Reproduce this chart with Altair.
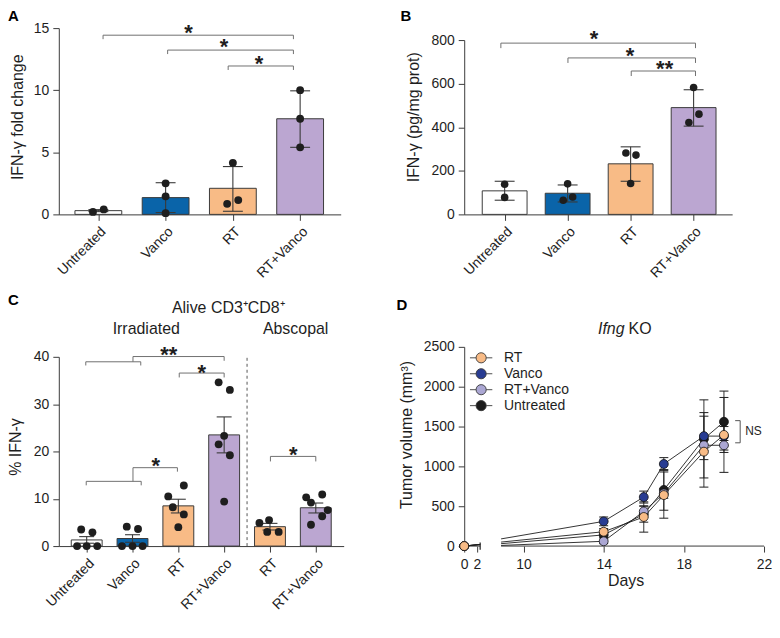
import altair as alt
import pandas as pd

FONT = "Liberation Sans"
INK = "#1e1e1e"
AXC = "#3a3a3a"
BRC = "#707070"

# ---------------- Panel A ----------------
a_names = ["Untreated", "Vanco", "RT", "RT+Vanco"]
a_colors = ["#ffffff", "#0a64a9", "#f8bb86", "#bba6d1"]
a_mean = [0.30, 1.35, 2.10, 7.70]
a_lo = [0.22, 0.15, 0.25, 5.40]
a_hi = [0.38, 2.55, 3.85, 9.95]
a_pt_grp = [0, 0, 1, 1, 1, 2, 2, 2, 3, 3, 3]
a_pt_val = [0.20, 0.40, 2.50, 1.45, 0.10, 4.15, 0.85, 1.15, 10.0, 7.70, 5.40]
a_pt_jit = [-0.08, 0.08, 0, 0, 0, 0, -0.085, 0.08, 0, 0, 0]
a_brackets = [(0.07, 2.90, 14.43), (1.03, 2.90, 13.23), (1.93, 2.90, 11.95)]
a_stars = [("*", 1.34, 15.03), ("*", 1.87, 13.87), ("*", 2.39, 12.5)]

# ---------------- Panel B ----------------
b_names = ["Untreated", "Vanco", "RT", "RT+Vanco"]
b_mean = [108, 97, 232, 490]
b_lo = [65, 57, 152, 405]
b_hi = [152, 135, 310, 572]
b_pt_grp = [0, 0, 1, 1, 1, 2, 2, 2, 3, 3, 3]
b_pt_val = [138, 78, 140, 65, 80, 282, 272, 142, 582, 460, 422]
b_pt_jit = [0, 0, 0, -0.07, 0.08, -0.075, 0.085, 0, 0, 0.085, -0.075]
b_brackets = [(-0.06, 3.03, 786), (1.005, 3.03, 718), (2.01, 3.03, 658)]
b_stars = [("*", 1.42, 827), ("*", 1.99, 750), ("**", 2.54, 690)]

# ---------------- Panel C ----------------
c_names = ["Untreated", "Vanco", "RT", "RT+Vanco", "RT", "RT+Vanco"]
c_colors = ["#ffffff", "#0a64a9", "#f8bb86", "#bba6d1", "#f8bb86", "#bba6d1"]
c_mean = [1.3, 1.6, 8.5, 23.5, 4.1, 8.1]
c_lo = [0.6, 0.8, 7.0, 19.7, 3.4, 7.0]
c_hi = [2.0, 2.4, 9.9, 27.3, 4.8, 9.1]
c_pt_grp = [0] * 5 + [1] * 5 + [2] * 5 + [3] * 6 + [4] * 4 + [5] * 6
c_pt_val = [3.5, 2.9, 0, 0, 0,
            4.1, 3.6, 0, 0, 0,
            12.8, 10.5, 8.2, 6.7, 4.0,
            34.6, 33.0, 23.3, 21.5, 19.2, 9.4,
            5.5, 4.9, 3.0, 3.0,
            10.9, 10.3, 9.2, 7.6, 6.3, 4.5]
c_pt_jit = [-0.12, 0.125, -0.21, 0, 0.23,
            -0.125, 0.12, -0.23, 0, 0.22,
            0.12, -0.22, -0.12, 0.12, 0,
            -0.12, 0.125, 0, -0.12, 0.125, 0,
            -0.02, -0.23, -0.06, 0.19,
            0.14, -0.21, -0.105, 0.26, 0.14, -0.105]
c_segments = [
    (-0.02, 1.18, 38.95, 38.95), (-0.02, -0.02, 38.95, 38.17), (1.18, 1.18, 38.95, 38.17),
    (1.01, 1.01, 38.95, 40.06), (1.01, 3.0, 40.06, 40.06), (3.0, 3.0, 40.06, 39.16),
    (2.02, 3.0, 36.57, 36.57), (2.02, 2.02, 36.57, 35.64), (3.0, 3.0, 36.57, 35.64),
    (-0.01, 1.19, 13.68, 13.68), (-0.01, -0.01, 13.68, 12.84), (1.19, 1.19, 13.68, 12.84),
    (1.01, 1.01, 13.68, 16.57), (1.01, 1.98, 16.57, 16.57), (1.98, 1.98, 16.57, 15.73),
    (4.01, 5.0, 18.95, 18.95), (4.01, 4.01, 18.95, 17.89), (5.0, 5.0, 18.95, 17.89),
]
c_stars = [("**", 1.79, 41.33), ("*", 2.51, 37.62), ("*", 1.51, 17.96), ("*", 4.51, 20.4)]
c_headers = [("Alive CD3\u207aCD8\u207a", 3.09, 50.3), ("Irradiated", 1.30, 45.9), ("Abscopal", 4.56, 45.9)]
c_divider = [(3.5, 0, 40.4)]

# ---------------- Panel D ----------------
d_groups = ["RT", "Vanco", "RT+Vanco", "Untreated"]
d_colors = ["#f8bb86", "#283c92", "#aba7d3", "#1c1c1c"]
d_draw_order = ["Untreated", "RT+Vanco", "Vanco", "RT"]
d_days = [14, 16, 17, 19, 20]
d_rt = [180, 365, 640, 1185, 1395]
d_rt_sem = [40, 190, 290, 445, 470]
d_vanco = [310, 615, 1030, 1380, 1380]
d_vanco_sem = [55, 75, 80, 295, 120]
d_rtv = [60, 435, 660, 1265, 1265]
d_rtv_sem = [30, 70, 60, 70, 60]
d_unt = [140, 400, 705, 1345, 1560]
d_unt_sem = [30, 100, 255, 490, 385]
d_day0_val = [0, 0, 0, 0]
d_early_day = 2.5
d_early_val = [20, 20, 20, 20]
d_break_day = 8.88
d_break_val = [50, 90, 8, 30]
d_axis_segments = [(0, 2.5), (8.88, 22)]
d_ns_segments = [(20.81, 20.81, 1296, 1574), (20.56, 20.81, 1574, 1574), (20.56, 20.81, 1296, 1296)]


def bracket_segments(brs, drop):
    out = []
    for x1, x2, y in brs:
        out.append((x1, x2, y, y))
        out.append((x1, x1, y, y - drop))
        out.append((x2, x2, y, y - drop))
    return out


def letter_layer(letter, lx, ly):
    return alt.Chart(pd.DataFrame({"t": [letter]})).mark_text(
        font=FONT, fontSize=15, fontWeight="bold", align="left", baseline="alphabetic", color="#000"
    ).encode(x=alt.value(lx), y=alt.value(ly), text="t:N")


def bar_panel(names, colors, mean, lo, hi, pgrp, pval, pjit, segs, stars, xdom, xrange,
              ydom, yrange, yticks, width, height, barw, capw, dotsize, ytitle, ytx, yty,
              letter, lx, ly, extra=()):
    n = len(names)
    xs = alt.Scale(domain=xdom, range=xrange, nice=False, zero=False)
    ys = alt.Scale(domain=ydom, range=yrange, nice=False, zero=True)
    lab = "[" + ",".join("'" + s + "'" for s in names) + "][datum.value]"
    xax = alt.Axis(values=list(range(n)), labelExpr=lab, labelAngle=-45, labelAlign="right",
                   labelBaseline="top", labelPadding=4, labelOverlap=False, labelFlush=False, title=None)
    yax = alt.Axis(values=yticks, title=ytitle, titleX=ytx, titleY=yty, titleBaseline="middle",
                   labelOverlap=False, labelFlush=False, format="d")

    def X(f):
        return alt.X(f, type="quantitative", scale=xs, axis=xax)

    def Y(f, **kw):
        return alt.Y(f, type="quantitative", scale=ys, axis=yax, **kw)

    bars = pd.DataFrame({"i": list(range(n)), "m": mean, "lo": lo, "hi": hi, "c": colors})
    pts = pd.DataFrame({"x": [g + j for g, j in zip(pgrp, pjit)], "v": pval})
    sg = pd.DataFrame(segs, columns=["x", "x2", "y", "y2"])
    st = pd.DataFrame(stars, columns=["t", "x", "y"])

    b = alt.Chart(bars)
    layers = [
        b.mark_bar(size=barw, orient="vertical", stroke=AXC, strokeWidth=1).encode(
            x=X("i"), y=Y("m", stack=None), fill=alt.Fill("c:N", scale=None)),
        b.mark_rule(color=AXC, strokeWidth=1.1).encode(x=X("i"), y=Y("lo"), y2="hi"),
        b.mark_tick(orient="horizontal", size=capw, thickness=1.1, color=AXC, opacity=1).encode(
            x=X("i"), y=Y("lo")),
        b.mark_tick(orient="horizontal", size=capw, thickness=1.1, color=AXC, opacity=1).encode(
            x=X("i"), y=Y("hi")),
        alt.Chart(pts).mark_circle(size=dotsize, color=INK, opacity=1).encode(x=X("x"), y=Y("v")),
        alt.Chart(sg).mark_rule(color=BRC, strokeWidth=1).encode(
            x=X("x"), x2="x2", y=Y("y"), y2="y2"),
        alt.Chart(st).mark_text(font=FONT, fontSize=22, fontWeight="bold", color=INK,
                                baseline="alphabetic", dy=12).encode(x=X("x"), y=Y("y"), text="t:N"),
    ]
    layers += [e(X, Y) for e in extra]
    layers.append(letter_layer(letter, lx, ly))
    return alt.layer(*layers).properties(width=width, height=height)


# ---- A ----
A = bar_panel(a_names, a_colors, a_mean, a_lo, a_hi, a_pt_grp, a_pt_val, a_pt_jit,
              bracket_segments(a_brackets, 0.32), a_stars,
              [-0.514, 3.529], [0, 283], [0, 15], [187, 0], [0, 5, 10, 15],
              283, 187, 47, 20, 62, "IFN-\u03b3 fold change", -41, 89, "A", -51, -7)

# ---- B ----
B = bar_panel(b_names, a_colors, b_mean, b_lo, b_hi, b_pt_grp, b_pt_val, b_pt_jit,
              bracket_segments(b_brackets, 23), b_stars,
              [-0.563, 3.533], [0, 269], [0, 800], [187, 12], [0, 200, 400, 600, 800],
              269, 187, 45, 20, 58, "IFN-\u03b3 (pg/mg prot)", -51, 89, "B", -64, -7)


# ---- C extras ----
def c_divider_layer(X, Y):
    df = pd.DataFrame(c_divider, columns=["x", "y", "y2"])
    return alt.Chart(df).mark_rule(color="#555555", strokeWidth=1, strokeDash=[3, 3]).encode(
        x=X("x"), y=Y("y"), y2="y2")


def c_header_layer(X, Y):
    df = pd.DataFrame(c_headers, columns=["t", "x", "y"])
    return alt.Chart(df).mark_text(font=FONT, fontSize=16, color=INK, baseline="middle").encode(
        x=X("x"), y=Y("y"), text="t:N")


C = bar_panel(c_names, c_colors, c_mean, c_lo, c_hi, c_pt_grp, c_pt_val, c_pt_jit,
              c_segments, c_stars,
              [-0.5, 5.5], [0, 286], [0, 40], [200, 10], [0, 10, 20, 30, 40],
              288, 200, 31, 15, 62, "% IFN-\u03b3", -43, 100, "C", -51, -42,
              extra=(c_divider_layer, c_header_layer))

# ---- D ----
d_mean_by = {"RT": d_rt, "Vanco": d_vanco, "RT+Vanco": d_rtv, "Untreated": d_unt}
d_sem_by = {"RT": d_rt_sem, "Vanco": d_vanco_sem, "RT+Vanco": d_rtv_sem, "Untreated": d_unt_sem}

line_rows, pt_rows, err_rows = [], [], []
for k, g in enumerate(d_groups):
    line_rows.append((g, "a", 0, d_day0_val[k]))
    line_rows.append((g, "a", d_early_day, d_early_val[k]))
    line_rows.append((g, "b", d_break_day, d_break_val[k]))
    for day, v in zip(d_days, d_mean_by[g]):
        line_rows.append((g, "b", day, v))
for g in d_draw_order:
    k = d_groups.index(g)
    pt_rows.append((g, 0, d_day0_val[k]))
    for day, v, s in zip(d_days, d_mean_by[g], d_sem_by[g]):
        pt_rows.append((g, day, v))
        err_rows.append((g, day, v - s, v + s))

d_lines = pd.DataFrame(line_rows, columns=["g", "seg", "day", "v"])
d_lines["key"] = d_lines["g"] + "_" + d_lines["seg"]
d_pts = pd.DataFrame(pt_rows, columns=["g", "day", "v"])
d_err = pd.DataFrame(err_rows, columns=["g", "day", "lo", "hi"])
d_axseg = pd.DataFrame(d_axis_segments, columns=["x", "x2"]).assign(y=0)
d_ns = pd.DataFrame(d_ns_segments, columns=["x", "x2", "y", "y2"])

xs_d = alt.Scale(domain=[0, 2.5, 8.88, 22], range=[0, 16, 37, 301], nice=False, zero=False)
ys_d = alt.Scale(domain=[0, 2500], range=[200, 0], nice=False)
xax_d = alt.Axis(values=[0, 2, 10, 14, 18, 22], domain=False, title="Days", titleX=162, titleY=35,
                 titleBaseline="middle", labelPadding=6, labelOverlap=False, labelFlush=False,
                 format="d", labelAngle=0)
yax_d = alt.Axis(values=[0, 500, 1000, 1500, 2000, 2500], title="Tumor volume (mm\u00b3)",
                 titleX=-58, titleY=88, titleBaseline="middle", labelOverlap=False, labelFlush=False,
                 format="d")


def XD(f):
    return alt.X(f, type="quantitative", scale=xs_d, axis=xax_d)


def YD(f):
    return alt.Y(f, type="quantitative", scale=ys_d, axis=yax_d)


SYM = "M-2.2,0H-1M1,0H2.2M1,0A1,1,0,1,1,-1,0A1,1,0,1,1,1,0Z"

# legend sits at the concat origin frame (panel A view origin)
LEG_X = 417
LEG_Y = 324

d_layers = [
    alt.Chart(d_axseg).mark_rule(color=AXC, strokeWidth=1).encode(x=XD("x"), x2="x2", y=YD("y")),
    alt.Chart(pd.DataFrame({"x": [d_early_day], "y": [-45], "y2": [45]})).mark_rule(
        color=INK, strokeWidth=1.2).encode(x=XD("x"), y=YD("y"), y2="y2"),
    alt.Chart(d_lines).mark_line(color=INK, strokeWidth=0.9).encode(
        x=XD("day"), y=YD("v"), detail="key:N", order="day:Q"),
    alt.Chart(d_err).mark_rule(color=INK, strokeWidth=0.9).encode(x=XD("day"), y=YD("lo"), y2="hi"),
    alt.Chart(d_err).mark_tick(orient="horizontal", size=9, thickness=1, color=INK, opacity=1).encode(
        x=XD("day"), y=YD("lo")),
    alt.Chart(d_err).mark_tick(orient="horizontal", size=9, thickness=1, color=INK, opacity=1).encode(
        x=XD("day"), y=YD("hi")),
    alt.Chart(d_pts).mark_circle(size=80, stroke="#111111", strokeWidth=0.8, opacity=1).encode(
        x=XD("day"), y=YD("v"),
        fill=alt.Fill("g:N", scale=alt.Scale(domain=d_groups, range=d_colors),
                      legend=alt.Legend(title=None, orient="none", legendX=LEG_X, legendY=LEG_Y,
                                        symbolType=SYM, symbolSize=104, symbolStrokeColor="#111111",
                                        symbolStrokeWidth=0.9, labelFont=FONT, labelFontSize=14,
                                        labelColor=INK, labelOffset=16, rowPadding=2, padding=0))),
    alt.Chart(d_ns).mark_rule(color="#555555", strokeWidth=1).encode(
        x=XD("x"), x2="x2", y=YD("y"), y2="y2"),
    alt.Chart(pd.DataFrame({"t": ["NS"], "x": [21.06], "y": [1440]})).mark_text(
        font=FONT, fontSize=12, color=INK, align="left", baseline="middle").encode(
        x=XD("x"), y=YD("y"), text="t:N"),
    alt.Chart(pd.DataFrame({"t": ["Ifng"], "x": [15.04], "y": [2725]})).mark_text(
        font=FONT, fontSize=16, fontStyle="italic", color=INK, align="right", baseline="middle").encode(
        x=XD("x"), y=YD("y"), text="t:N"),
    alt.Chart(pd.DataFrame({"t": ["KO"], "x": [15.24], "y": [2725]})).mark_text(
        font=FONT, fontSize=16, color=INK, align="left", baseline="middle").encode(
        x=XD("x"), y=YD("y"), text="t:N"),
    letter_layer("D", -68, -37),
]
D = alt.layer(*d_layers).properties(width=301, height=200)

chart = alt.concat(
    A, B, C, D, columns=2, spacing={"row": 133, "column": 119}, bounds="flush", align="none"
).properties(padding=0).configure(font=FONT).configure_view(stroke=None).configure_axis(
    labelFont=FONT, titleFont=FONT, labelFontSize=14, titleFontSize=16, titleFontWeight="normal",
    labelColor=INK, titleColor=INK, domainColor=AXC, tickColor=AXC, domainWidth=1, tickWidth=1,
    tickSize=6, labelPadding=4, grid=False
)

chart.save("out.html", embed_options={"renderer": "svg", "actions": False})
